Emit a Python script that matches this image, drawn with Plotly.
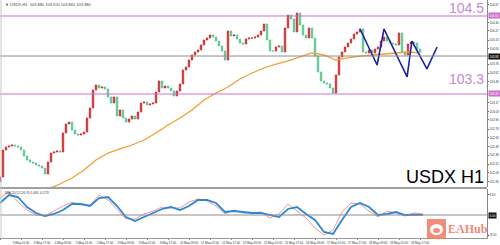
import plotly.graph_objects as go

# ---------------- data ----------------
closes = [
    102.023, 102.438, 102.484, 102.500, 102.515, 102.500, 102.484, 102.438, 102.346, 102.284,
    102.254, 102.238, 102.208, 102.192, 102.161, 102.069, 102.254, 102.392, 102.408, 102.423,
    102.408, 102.700, 102.838, 102.869, 102.746, 102.684, 102.669, 102.684, 102.715, 102.931,
    103.084, 103.361, 103.438, 103.392, 103.408, 103.377, 103.254, 103.161, 103.254, 102.961,
    103.054, 102.931, 102.869, 102.915, 102.961, 102.915, 103.023, 103.161, 103.177, 103.131,
    103.146, 103.161, 103.331, 103.500, 103.392, 103.423, 103.392, 103.346, 103.269, 103.346,
    103.454, 103.669, 103.715, 103.823, 103.900, 103.946, 103.977, 104.054, 104.131, 104.161,
    104.208, 104.177, 104.115, 104.038, 103.961, 103.823, 104.269, 104.192, 104.208, 104.146,
    104.084, 104.069, 104.146, 104.161, 104.161, 104.177, 104.208, 104.269, 104.377, 104.131,
    103.961, 103.961, 104.023, 104.038, 103.946, 104.315, 104.515, 104.454, 104.254, 104.546,
    104.361, 104.208, 104.161, 104.315, 104.161, 103.884, 103.638, 103.500, 103.469, 103.454,
    103.392, 103.315, 103.592, 103.869, 103.946, 104.023, 104.084, 104.146, 104.223, 104.254,
    104.300, 103.946, 103.931, 103.977, 103.931, 103.992, 104.023, 104.115, 104.177, 104.115,
    104.084, 104.069, 104.054, 104.238, 103.946, 103.900, 104.069, 104.100, 104.084, 103.992,
    103.946,
]
first_open = 101.950
opens = [first_open] + closes[:-1]
highs = [max(o, c) for o, c in zip(opens, closes)]
lows = [min(o, c) for o, c in zip(opens, closes)]
bars = list(range(len(closes)))

ma_bars = list(range(16, 141, 4))
ma_vals = [101.838, 101.915, 102.007, 102.131, 102.284, 102.392, 102.454, 102.515, 102.592, 102.700,
           102.823, 102.931, 103.054, 103.208, 103.315, 103.408, 103.531, 103.623, 103.700, 103.761,
           103.808, 103.869, 103.931, 103.900, 103.823, 103.854, 103.884, 103.900, 103.915, 103.931,
           103.946, 103.931]

zz_bars = [120, 125.7, 128, 135.7, 137.3, 142.3, 145.7]
zz_vals = [104.300, 103.746, 104.300, 103.562, 104.115, 103.685, 104.023]

level_vals = [104.5, 103.3]
level_labels = ["104.5", "103.3"]
mid_level = 103.884

price_ticks = [104.67, 104.40, 104.27, 104.13, 104.00, 103.76, 103.62, 103.49, 103.17, 103.03,
               102.90, 102.76, 102.63, 102.49, 102.36, 102.22, 102.09, 101.95]

osc_bars = list(range(0, 142, 3))
osc_main = [5.01, 8.35, 7.52, 3.34, 0.84, -0.42, 0.42, 2.09, 4.59, 4.59, 3.76, 7.10, 7.52, 3.76, -0.84,
            -2.51, -0.84, 0.84, 2.51, 3.34, 2.09, 3.76, 6.27, 6.27, 5.01, 1.25, 1.67, 1.25, 0.84, 0.84,
            0.00, -0.84, 2.51, 3.34, 0.42, -2.09, -7.10, -7.94, -2.09, 3.34, 5.01, 3.34, 0.00, 0.42,
            1.25, 0.00, 0.10, 0.05]
osc_signal = [7.10, 9.61, 5.43, 2.09, 0.00, -0.42, 1.67, 3.76, 5.43, 4.18, 4.18, 8.35, 6.27, 2.09, -1.67,
              -1.67, 0.42, 1.67, 3.34, 2.92, 2.92, 5.43, 6.68, 5.85, 3.76, 0.42, 2.09, 0.84, 0.84, 1.25,
              -1.25, 0.42, 4.59, 1.67, -1.25, -5.43, -8.35, -6.27, 1.25, 5.01, 4.59, 1.67, -0.84, 1.67,
              0.84, -0.42, 0.84, 0.42]
osc_ticks = [8.5, -8.5]

date_labels = ["2 May 2023", "3 May 01:00", "3 May 17:00", "4 May 09:00", "5 May 01:00", "5 May 17:00",
               "8 May 09:00", "9 May 01:00", "9 May 17:00", "10 May 09:00", "11 May 01:00", "11 May 17:00",
               "12 May 09:00", "15 May 01:00", "15 May 17:00", "16 May 09:00", "17 May 01:00",
               "17 May 17:00", "18 May 09:00", "19 May 01:00", "19 May 17:00"]

title_text = "▼ USDX,H1  103.880 103.920 103.860 103.880"
osc_text = "MACD(12,26,9) 0.461 0.273"
chart_label = "USDX H1"

# ---------------- figure ----------------
W, H = 500, 245
XR = [0, 162.33]
main_dom = [58 / H, 1.0]
osc_dom = [7 / H, 56 / H]
xdom = [0, 487 / W]
TF = dict(size=3, color="#333", family="Liberation Sans, Arial")

fig = go.Figure()
fig.add_trace(go.Candlestick(
    x=bars, open=opens, high=highs, low=lows, close=closes,
    increasing=dict(line=dict(color="#c92a2a", width=0.8), fillcolor="#d23a3a"),
    decreasing=dict(line=dict(color="#52c28c", width=0.8), fillcolor="#6fd0a0"),
    whiskerwidth=0, showlegend=False, hoverinfo="skip", xaxis="x", yaxis="y"))
fig.add_trace(go.Scatter(x=ma_bars, y=ma_vals, mode="lines", line=dict(color="#f0a030", width=1.3),
                         showlegend=False, hoverinfo="skip", xaxis="x", yaxis="y"))
fig.add_trace(go.Scatter(x=zz_bars, y=zz_vals, mode="lines", line=dict(color="#1b22a8", width=1.6),
                         showlegend=False, hoverinfo="skip", xaxis="x", yaxis="y"))
fig.add_trace(go.Scatter(x=osc_bars, y=osc_signal, mode="lines", line=dict(color="#f07a7a", width=0.8),
                         showlegend=False, hoverinfo="skip", xaxis="x2", yaxis="y2"))
fig.add_trace(go.Scatter(x=osc_bars, y=osc_main, mode="lines", line=dict(color="#2a86d6", width=1.8),
                         showlegend=False, hoverinfo="skip", xaxis="x2", yaxis="y2"))

shapes = []
for v in level_vals:
    shapes.append(dict(type="line", xref="paper", yref="y", x0=xdom[0], x1=xdom[1], y0=v, y1=v,
                       line=dict(color="#cc6fcc", width=1)))
shapes.append(dict(type="line", xref="paper", yref="y", x0=xdom[0], x1=xdom[1], y0=mid_level, y1=mid_level,
                   line=dict(color="#8c8c8c", width=1)))
shapes.append(dict(type="line", xref="paper", yref="y2", x0=xdom[0], x1=xdom[1], y0=0, y1=0,
                   line=dict(color="#8c8c8c", width=1)))
shapes.append(dict(type="line", xref="paper", yref="paper", x0=0, x1=xdom[1], y0=main_dom[0] - 1 / H,
                   y1=main_dom[0] - 1 / H, line=dict(color="#a0a0a0", width=2)))
shapes.append(dict(type="line", xref="paper", yref="paper", x0=0.002, x1=0.002, y0=osc_dom[0], y1=1,
                   line=dict(color="#c8c8c8", width=1)))
# EAHub logo icon
shapes.append(dict(type="rect", xref="paper", yref="paper", x0=427 / W, x1=446 / W, y0=(H - 239) / H,
                   y1=(H - 219) / H, fillcolor="rgba(240,120,100,0.85)", line=dict(width=0)))
shapes.append(dict(type="circle", xref="paper", yref="paper", x0=430 / W, x1=443 / W, y0=(H - 235) / H,
                   y1=(H - 224) / H, fillcolor="white", line=dict(width=0)))
shapes.append(dict(type="circle", xref="paper", yref="paper", x0=433 / W, x1=440 / W, y0=(H - 233) / H,
                   y1=(H - 228) / H, fillcolor="rgba(240,120,100,0.85)", line=dict(width=0)))

ann = []
ann.append(dict(text=level_labels[0], xref="paper", yref="y", x=486 / W, y=level_vals[0], xanchor="right",
                yanchor="bottom", yshift=-2, showarrow=False,
                font=dict(size=14, color="#c888d4", family="Liberation Sans, Arial")))
ann.append(dict(text=level_labels[1], xref="paper", yref="y", x=486 / W, y=level_vals[1], xanchor="right",
                yanchor="bottom", yshift=5, showarrow=False,
                font=dict(size=14, color="#c888d4", family="Liberation Sans, Arial")))
ann.append(dict(text=chart_label, xref="paper", yref="paper", x=486 / W, y=main_dom[0], xanchor="right",
                yanchor="bottom", yshift=-2, showarrow=False,
                font=dict(size=18, color="black", family="Liberation Sans, Arial")))
ann.append(dict(text=title_text, xref="paper", yref="paper", x=3 / W, y=1, xanchor="left", yanchor="top",
                showarrow=False, font=dict(size=4, color="#444", family="Liberation Sans, Arial")))
ann.append(dict(text=osc_text, xref="paper", yref="paper", x=3 / W, y=osc_dom[1], xanchor="left",
                yanchor="top", showarrow=False, font=dict(size=3.5, color="#444", family="Liberation Sans, Arial")))
for v, bg in [(level_vals[0], "#cc6fcc"), (mid_level, "#111111"), (level_vals[1], "#cc6fcc")]:
    ann.append(dict(text=f"{v:.2f}", xref="paper", yref="y", x=488 / W, y=v, xanchor="left", yanchor="middle",
                    showarrow=False, bgcolor=bg, borderpad=0.5,
                    font=dict(size=3, color="white", family="Liberation Sans, Arial")))
ann.append(dict(text="0.00", xref="paper", yref="y2", x=488 / W, y=0, xanchor="left", yanchor="middle",
                showarrow=False, bgcolor="#111111", borderpad=0.5,
                font=dict(size=3, color="white", family="Liberation Sans, Arial")))
ann.append(dict(text="<b>EAHub</b>", xref="paper", yref="paper", x=447 / W, y=(H - 229) / H, xanchor="left",
                yanchor="middle", showarrow=False, borderpad=0,
                font=dict(size=12, color="rgba(240,120,100,0.9)", family="Liberation Serif, serif")))

fig.update_layout(
    width=W, height=H, margin=dict(l=0, r=0, t=0, b=0),
    paper_bgcolor="white", plot_bgcolor="white", template="none",
    shapes=shapes, annotations=ann, showlegend=False,
    xaxis=dict(domain=xdom, range=XR, anchor="y", showticklabels=False, showgrid=False, zeroline=False,
               rangeslider=dict(visible=False), automargin=False, fixedrange=True),
    yaxis=dict(domain=main_dom, range=[101.869, 104.746], side="right", showgrid=False, zeroline=False,
               tickvals=price_ticks, ticktext=[f"{t:.2f}" for t in price_ticks], ticks="outside", ticklen=1,
               tickcolor="#666", tickfont=TF, showline=True, linecolor="#888", linewidth=1, automargin=False),
    xaxis2=dict(domain=xdom, range=XR, anchor="y2", showgrid=False, zeroline=False,
                tickvals=[i * 7 for i in range(len(date_labels))], ticktext=date_labels, tickangle=0,
                ticks="outside", ticklen=1, tickcolor="#888",
                tickfont=TF, showline=True, linecolor="#999", linewidth=1, automargin=False),
    yaxis2=dict(domain=osc_dom, range=[-9.61, 10.86], side="right", showgrid=False, zeroline=False,
                tickvals=osc_ticks, ticktext=[f"{t:.2f}" for t in osc_ticks], ticks="outside", ticklen=1,
                tickfont=TF, showline=True, linecolor="#888", linewidth=1, automargin=False),
)

fig.write_html("out.html")
